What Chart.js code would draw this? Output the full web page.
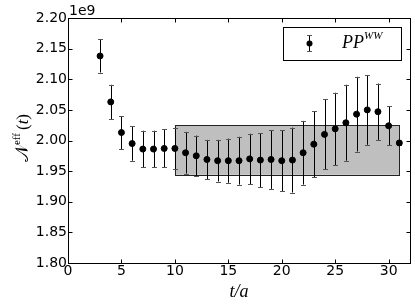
<!DOCTYPE html>
<html>
<head>
<meta charset="utf-8">
<script src="https://cdn.jsdelivr.net/npm/chart.js@4.4.0/dist/chart.umd.min.js"></script>
<style>
  html, body { margin: 0; padding: 0; background: #fff; }
  canvas { display: block; }
</style>
</head>
<body>
<canvas id="chart" width="415" height="307"></canvas>
<script>
// effective N per timeslice (units of 1e9)
const tValues = [3, 4, 5, 6, 7, 8, 9, 10, 11, 12, 13, 14, 15, 16, 17, 18, 19, 20, 21, 22, 23, 24, 25, 26, 27, 28, 29, 30, 31];
const nEff = [2.138, 2.063, 2.013, 1.995, 1.986, 1.986, 1.987, 1.987, 1.980, 1.975, 1.969, 1.967, 1.967, 1.967, 1.970, 1.968, 1.969, 1.967, 1.968, 1.980, 1.994, 2.010, 2.019, 2.029, 2.043, 2.050, 2.047, 2.024, 1.996];
const nErr = [0.027, 0.028, 0.027, 0.028, 0.030, 0.030, 0.031, 0.034, 0.034, 0.033, 0.032, 0.034, 0.036, 0.039, 0.041, 0.044, 0.048, 0.050, 0.053, 0.052, 0.054, 0.057, 0.059, 0.062, 0.061, 0.057, 0.046, 0.032, 0.003];

// fit band
const fitT = [10, 31];
const fitBand = [1.944, 2.025];

const xTicks = [0, 5, 10, 15, 20, 25, 30];
const yTicks = [1.80, 1.85, 1.90, 1.95, 2.00, 2.05, 2.10, 2.15, 2.20];

const sans = '"DejaVu Sans", sans-serif';
const serif = '"Liberation Serif", "DejaVu Serif", serif';

const extras = {
    id: 'extras',
    beforeDatasetsDraw(chart) {
        const ctx = chart.ctx;
        const x = chart.scales.x, y = chart.scales.y;
        // gray fit band
        const x0 = x.getPixelForValue(fitT[0]), x1 = x.getPixelForValue(fitT[1]);
        const y0 = y.getPixelForValue(fitBand[1]), y1 = y.getPixelForValue(fitBand[0]);
        ctx.save();
        ctx.fillStyle = '#bfbfbf';
        ctx.fillRect(x0, y0, x1 - x0, y1 - y0);
        ctx.strokeStyle = '#222';
        ctx.lineWidth = 1;
        ctx.strokeRect(Math.round(x0) + 0.5, Math.round(y0) + 0.5, Math.round(x1 - x0), Math.round(y1 - y0));
        // error bars
        tValues.forEach(function(t, i) {
            const px = Math.round(x.getPixelForValue(t)) + 0.5;
            const top = y.getPixelForValue(nEff[i] + nErr[i]);
            const bot = y.getPixelForValue(nEff[i] - nErr[i]);
            ctx.strokeStyle = '#000';
            ctx.beginPath();
            ctx.moveTo(px, top);
            ctx.lineTo(px, bot);
            ctx.stroke();
            ctx.strokeStyle = '#555';
            ctx.beginPath();
            ctx.moveTo(px - 2.5, Math.round(top) + 0.5);
            ctx.lineTo(px + 2.5, Math.round(top) + 0.5);
            ctx.moveTo(px - 2.5, Math.round(bot) + 0.5);
            ctx.lineTo(px + 2.5, Math.round(bot) + 0.5);
            ctx.stroke();
        });
        ctx.restore();
    },
    afterDraw(chart) {
        const ctx = chart.ctx;
        const a = chart.chartArea;
        const x = chart.scales.x, y = chart.scales.y;
        ctx.save();
        // frame
        ctx.strokeStyle = '#000';
        ctx.lineWidth = 1;
        const L = Math.round(a.left) + 0.5, R = Math.round(a.right) + 0.5;
        const T = Math.round(a.top) + 0.5, B = Math.round(a.bottom) + 0.5;
        ctx.strokeRect(L, T, R - L, B - T);
        // inward ticks
        ctx.beginPath();
        xTicks.forEach(function(v) {
            const px = Math.round(x.getPixelForValue(v)) + 0.5;
            ctx.moveTo(px, B); ctx.lineTo(px, B - 4);
            ctx.moveTo(px, T); ctx.lineTo(px, T + 4);
        });
        yTicks.forEach(function(v) {
            const py = Math.round(y.getPixelForValue(v)) + 0.5;
            ctx.moveTo(L, py); ctx.lineTo(L + 4, py);
            ctx.moveTo(R, py); ctx.lineTo(R - 4, py);
        });
        ctx.stroke();

        // offset label
        ctx.fillStyle = '#000';
        ctx.font = '14px ' + sans;
        ctx.textBaseline = 'alphabetic';
        ctx.textAlign = 'left';
        ctx.fillText('1e9', a.left + 1, a.top - 3);

        // y axis title
        ctx.save();
        ctx.translate(28, 138);
        ctx.rotate(-Math.PI / 2);
        const n = '𝒩';
        ctx.font = '18px ' + serif;
        const wN = ctx.measureText(n).width;
        ctx.font = '11px ' + serif;
        const wE = ctx.measureText('eff').width;
        ctx.font = '17px ' + serif;
        const wP = ctx.measureText('(').width;
        ctx.font = 'italic 17px ' + serif;
        const wT = ctx.measureText('t').width;
        ctx.font = '17px ' + serif;
        const wC = ctx.measureText(')').width;
        let cx = -(wN + wE + 3 + wP + wT + wC) / 2;
        ctx.font = '18px ' + serif;
        ctx.fillText(n, cx, 0); cx += wN;
        ctx.font = '11px ' + serif;
        ctx.fillText('eff', cx, -8); cx += wE + 3;
        ctx.font = '17px ' + serif;
        ctx.fillText('(', cx, 0); cx += wP;
        ctx.font = 'italic 17px ' + serif;
        ctx.fillText('t', cx, 0); cx += wT;
        ctx.font = '17px ' + serif;
        ctx.fillText(')', cx, 0);
        ctx.restore();

        // legend
        const lx = 283, ly = 27, lw = 118, lh = 33;
        ctx.fillStyle = '#fff';
        ctx.fillRect(lx, ly, lw, lh);
        ctx.strokeStyle = '#000';
        ctx.strokeRect(lx + 0.5, ly + 0.5, lw, lh);
        const mx = 309.5, my = 43.5;
        ctx.beginPath();
        ctx.moveTo(mx, my - 8); ctx.lineTo(mx, my + 8);
        ctx.stroke();
        ctx.strokeStyle = '#555';
        ctx.beginPath();
        ctx.moveTo(mx - 2.5, my - 8); ctx.lineTo(mx + 2.5, my - 8);
        ctx.moveTo(mx - 2.5, my + 8); ctx.lineTo(mx + 2.5, my + 8);
        ctx.stroke();
        ctx.fillStyle = '#000';
        ctx.beginPath();
        ctx.arc(mx, my, 3, 0, Math.PI * 2);
        ctx.fill();
        ctx.font = 'italic 18px ' + serif;
        ctx.fillText('PP', 342, 48);
        const wPP = ctx.measureText('PP').width;
        ctx.font = 'italic 11px ' + serif;
        ctx.fillText('WW', 342 + wPP, 39);
        ctx.restore();
    }
};

new Chart(document.getElementById('chart'), {
    type: 'scatter',
    data: {
        datasets: [{
            data: tValues.map(function(t, i) { return { x: t, y: nEff[i] }; }),
            backgroundColor: '#000',
            borderColor: '#000',
            pointRadius: 3,
            pointHoverRadius: 3,
            showLine: false
        }]
    },
    options: {
        responsive: false,
        animation: false,
        layout: { padding: { top: 18, right: 5, left: 0, bottom: 0 } },
        plugins: { legend: { display: false }, tooltip: { enabled: false } },
        scales: {
            x: {
                type: 'linear',
                min: 0,
                max: 32,
                afterBuildTicks: function(s) { s.ticks = xTicks.map(function(v) { return { value: v }; }); },
                ticks: { color: '#000', font: { family: sans, size: 14 }, padding: 0, maxRotation: 0 },
                grid: { display: false, drawTicks: false },
                border: { display: false },
                title: { display: true, text: 't/a', color: '#000', font: { family: serif, size: 18, style: 'italic' }, padding: { top: 0, bottom: 4 } },
                afterFit: function(s) { s.height = 44; }
            },
            y: {
                min: 1.8,
                max: 2.2,
                afterBuildTicks: function(s) { s.ticks = yTicks.map(function(v) { return { value: v }; }); },
                ticks: { color: '#000', font: { family: sans, size: 14 }, padding: 1, callback: function(v) { return v.toFixed(2); } },
                grid: { display: false, drawTicks: false },
                border: { display: false },
                afterFit: function(s) { s.width = 68; }
            }
        }
    },
    plugins: [extras]
});
</script>
</body>
</html>
